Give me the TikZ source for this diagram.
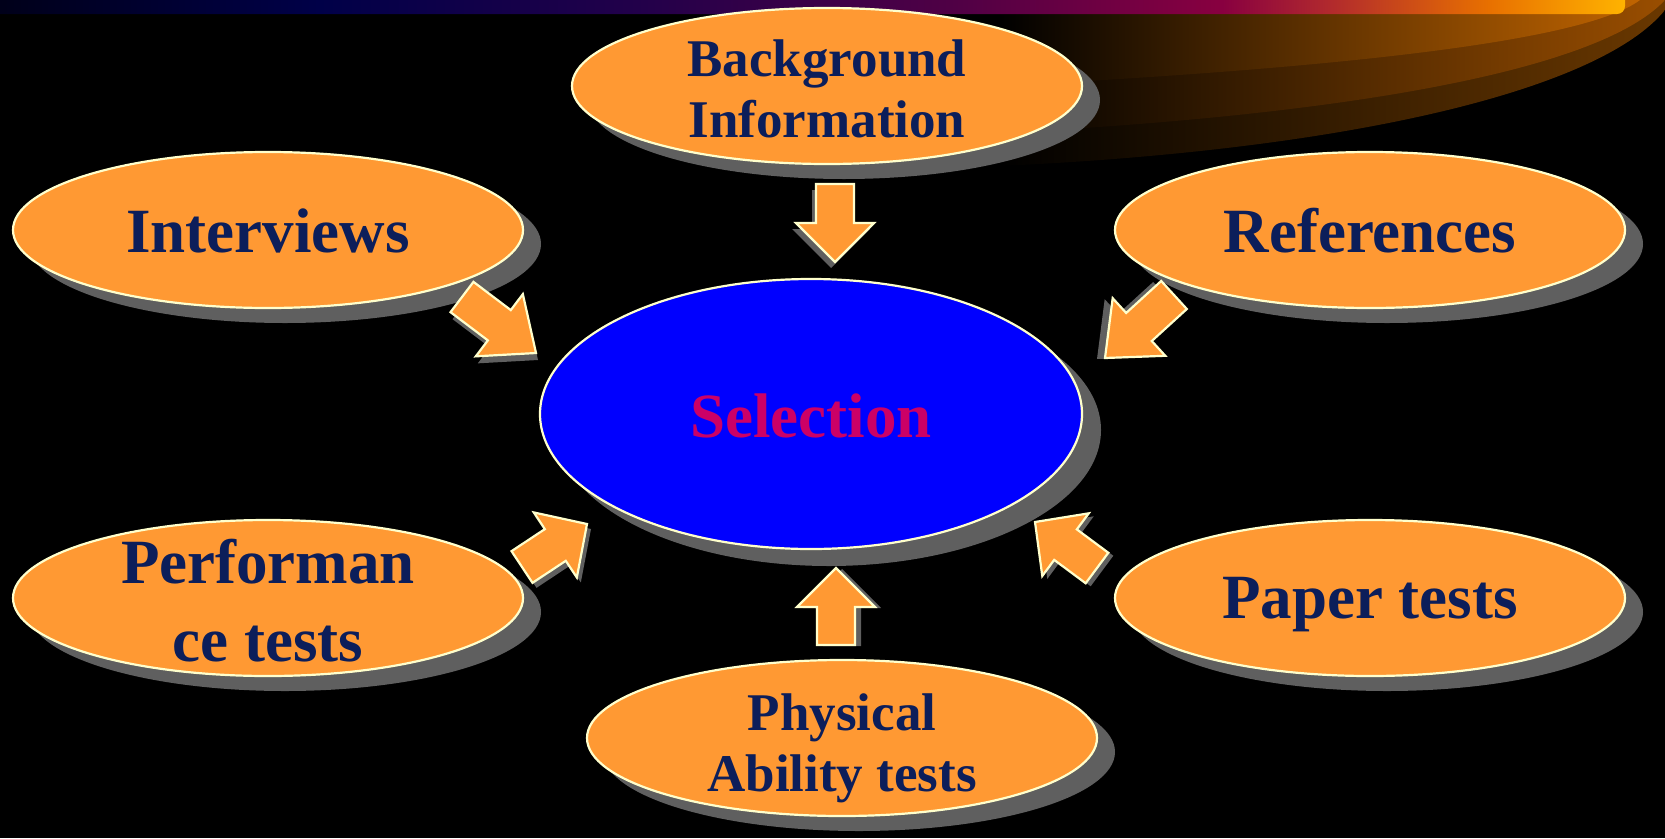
\documentclass[tikz,border=0pt]{standalone}
\usepackage{fontspec}
\setmainfont{Liberation Serif}
\usetikzlibrary{calc,shapes.geometric}
\definecolor{orangeF}{HTML}{FF9933}
\definecolor{creamL}{HTML}{FFFFCC}
\definecolor{shadowG}{HTML}{5F5F5F}
\definecolor{navyT}{HTML}{0C1E5A}
\definecolor{selT}{HTML}{CC0066}
\definecolor{selF}{HTML}{0000FF}
\definecolor{sw1}{HTML}{C06400}
\definecolor{sw2}{HTML}{9A4E00}
\definecolor{sw3}{HTML}{6A3800}
\pgfdeclarehorizontalshading{bandshade}{100bp}{%
 color(0bp)=(black); color(25bp)=(black!90!blue);
 color(34.8bp)=({rgb,255:red,0;green,0;blue,72});
 color(44.6bp)=({rgb,255:red,34;green,0;blue,74});
 color(54.4bp)=({rgb,255:red,80;green,0;blue,69});
 color(62.6bp)=({rgb,255:red,136;green,0;blue,64});
 color(65.8bp)=({rgb,255:red,176;green,40;blue,46});
 color(70.8bp)=({rgb,255:red,232;green,112;blue,0});
 color(75bp)=({rgb,255:red,255;green,179;blue,0});
 color(100bp)=({rgb,255:red,255;green,179;blue,0})}
\newcommand{\apath}[1]{($(#1T)!19pt!90:(#1P)$) -- ($(#1B)!19pt!90:(#1P)$) -- ($(#1B)!39pt!90:(#1P)$) -- (#1P) -- ($(#1B)!39pt!-90:(#1P)$) -- ($(#1B)!19pt!-90:(#1P)$) -- ($(#1T)!19pt!-90:(#1P)$) -- cycle}
\newcommand{\blockarrow}[5]{%
 \coordinate (#1T) at #2; \coordinate (#1P) at #3;
 \coordinate (#1sT) at ($#2+#5$); \coordinate (#1sP) at ($#3+#5$);
 \coordinate (#1B) at ($(#1P)!#4!(#1T)$);
 \coordinate (#1sB) at ($(#1sP)!#4!(#1sT)$);
 \fill[shad] \apath{#1s};
 \filldraw[arrowbox] \apath{#1};
}
\tikzset{
 shad/.style={fill=shadowG},
 arrowbox/.style={fill=orangeF, draw=creamL, line width=2.2pt, line join=miter},
 oval/.style={ellipse, fill=orangeF, draw=creamL, line width=2.2pt, inner sep=0pt, minimum width=510pt, minimum height=156pt},
 ovalshad/.style={ellipse, fill=shadowG, inner sep=0pt, minimum width=512pt, minimum height=158pt},
 lbl/.style={text=navyT, font=\fontsize{63}{78}\selectfont\bfseries, align=center, inner sep=0pt},
 slbl/.style={text=navyT, font=\fontsize{53}{61}\selectfont\bfseries, align=center, inner sep=0pt},
}
\begin{document}
\begin{tikzpicture}[x=1pt,y=-1pt]
\fill[black] (0,0) rectangle (1665,838);
\useasboundingbox (0,0) rectangle (1665,838);
% swoosh
\shade[left color=black, right color=sw3] (1000,0) -- (1665,0) -- (1665,10) .. controls (1600,90) and (1350,150) .. (1000,166) -- cycle;
\shade[left color=black, right color=sw2] (1000,0) -- (1665,0) .. controls (1600,70) and (1350,115) .. (1000,133) -- cycle;
\shade[left color=black, right color=sw1] (1000,0) -- (1640,0) .. controls (1580,45) and (1300,70) .. (1000,86) -- cycle;
% top band
\shade[shading=bandshade] (0,0) -- (1625,0) -- (1625,6) arc[start angle=0, end angle=90, radius=8] -- (0,14) -- cycle;
% ellipses
\node[ovalshad] (sBg) at (844,100) {};
\node[oval] (eBg) at (827,86) {};
\node[slbl] (tBg) at ([yshift=-3pt]eBg.center) {Background\\Information};
\node[ovalshad] (sIv) at (285,244) {};
\node[oval] (eIv) at (268,230) {};
\node[lbl] (tIv) at ([yshift=-1pt]eIv.center) {Interviews};
\node[ovalshad] (sRf) at (1387,244) {};
\node[oval] (eRf) at (1370,230) {};
\node[lbl] (tRf) at ([yshift=-1pt]eRf.center) {References};
\node[ovalshad] (sPf) at (285,612) {};
\node[oval] (ePf) at (268,598) {};
\node[lbl] (tPf) at ([yshift=-2.5pt]ePf.center) {Performan\\ce tests};
\node[ovalshad] (sPp) at (1387,612) {};
\node[oval] (ePp) at (1370,598) {};
\node[lbl] (tPp) at ([yshift=-6.5pt]ePp.center) {Paper tests};
\node[ovalshad] (sPh) at (859,752) {};
\node[oval] (ePh) at (842,738) {};
\node[slbl] (tPh) at ([yshift=-10pt]ePh.center) {Physical\\Ability tests};
\node[ellipse, fill=shadowG, inner sep=0pt, minimum width=544pt, minimum height=272pt] (sSel) at (829,430) {};
\node[ellipse, fill=selF, draw=creamL, line width=2.2pt, inner sep=0pt, minimum width=542pt, minimum height=270pt] (eSel) at (811,414) {};
\node[lbl, text=selT] (tSel) at ([yshift=-2pt]eSel.center) {Selection};
% arrows
\blockarrow{aBg}{(835,184)}{(835,262)}{39pt}{(-4,6)}
\blockarrow{aIv}{(462,297)}{(536,353)}{46pt}{(2,7)}
\blockarrow{aRf}{(1174,295)}{(1105,358)}{46pt}{(-8,1)}
\blockarrow{aPf}{(522,567)}{(587,524)}{38pt}{(4,5)}
\blockarrow{aPp}{(1097,568)}{(1035,522)}{38pt}{(5,3)}
\blockarrow{aPh}{(836,645)}{(836,568)}{39pt}{(6,1)}
\end{tikzpicture}
\end{document}
